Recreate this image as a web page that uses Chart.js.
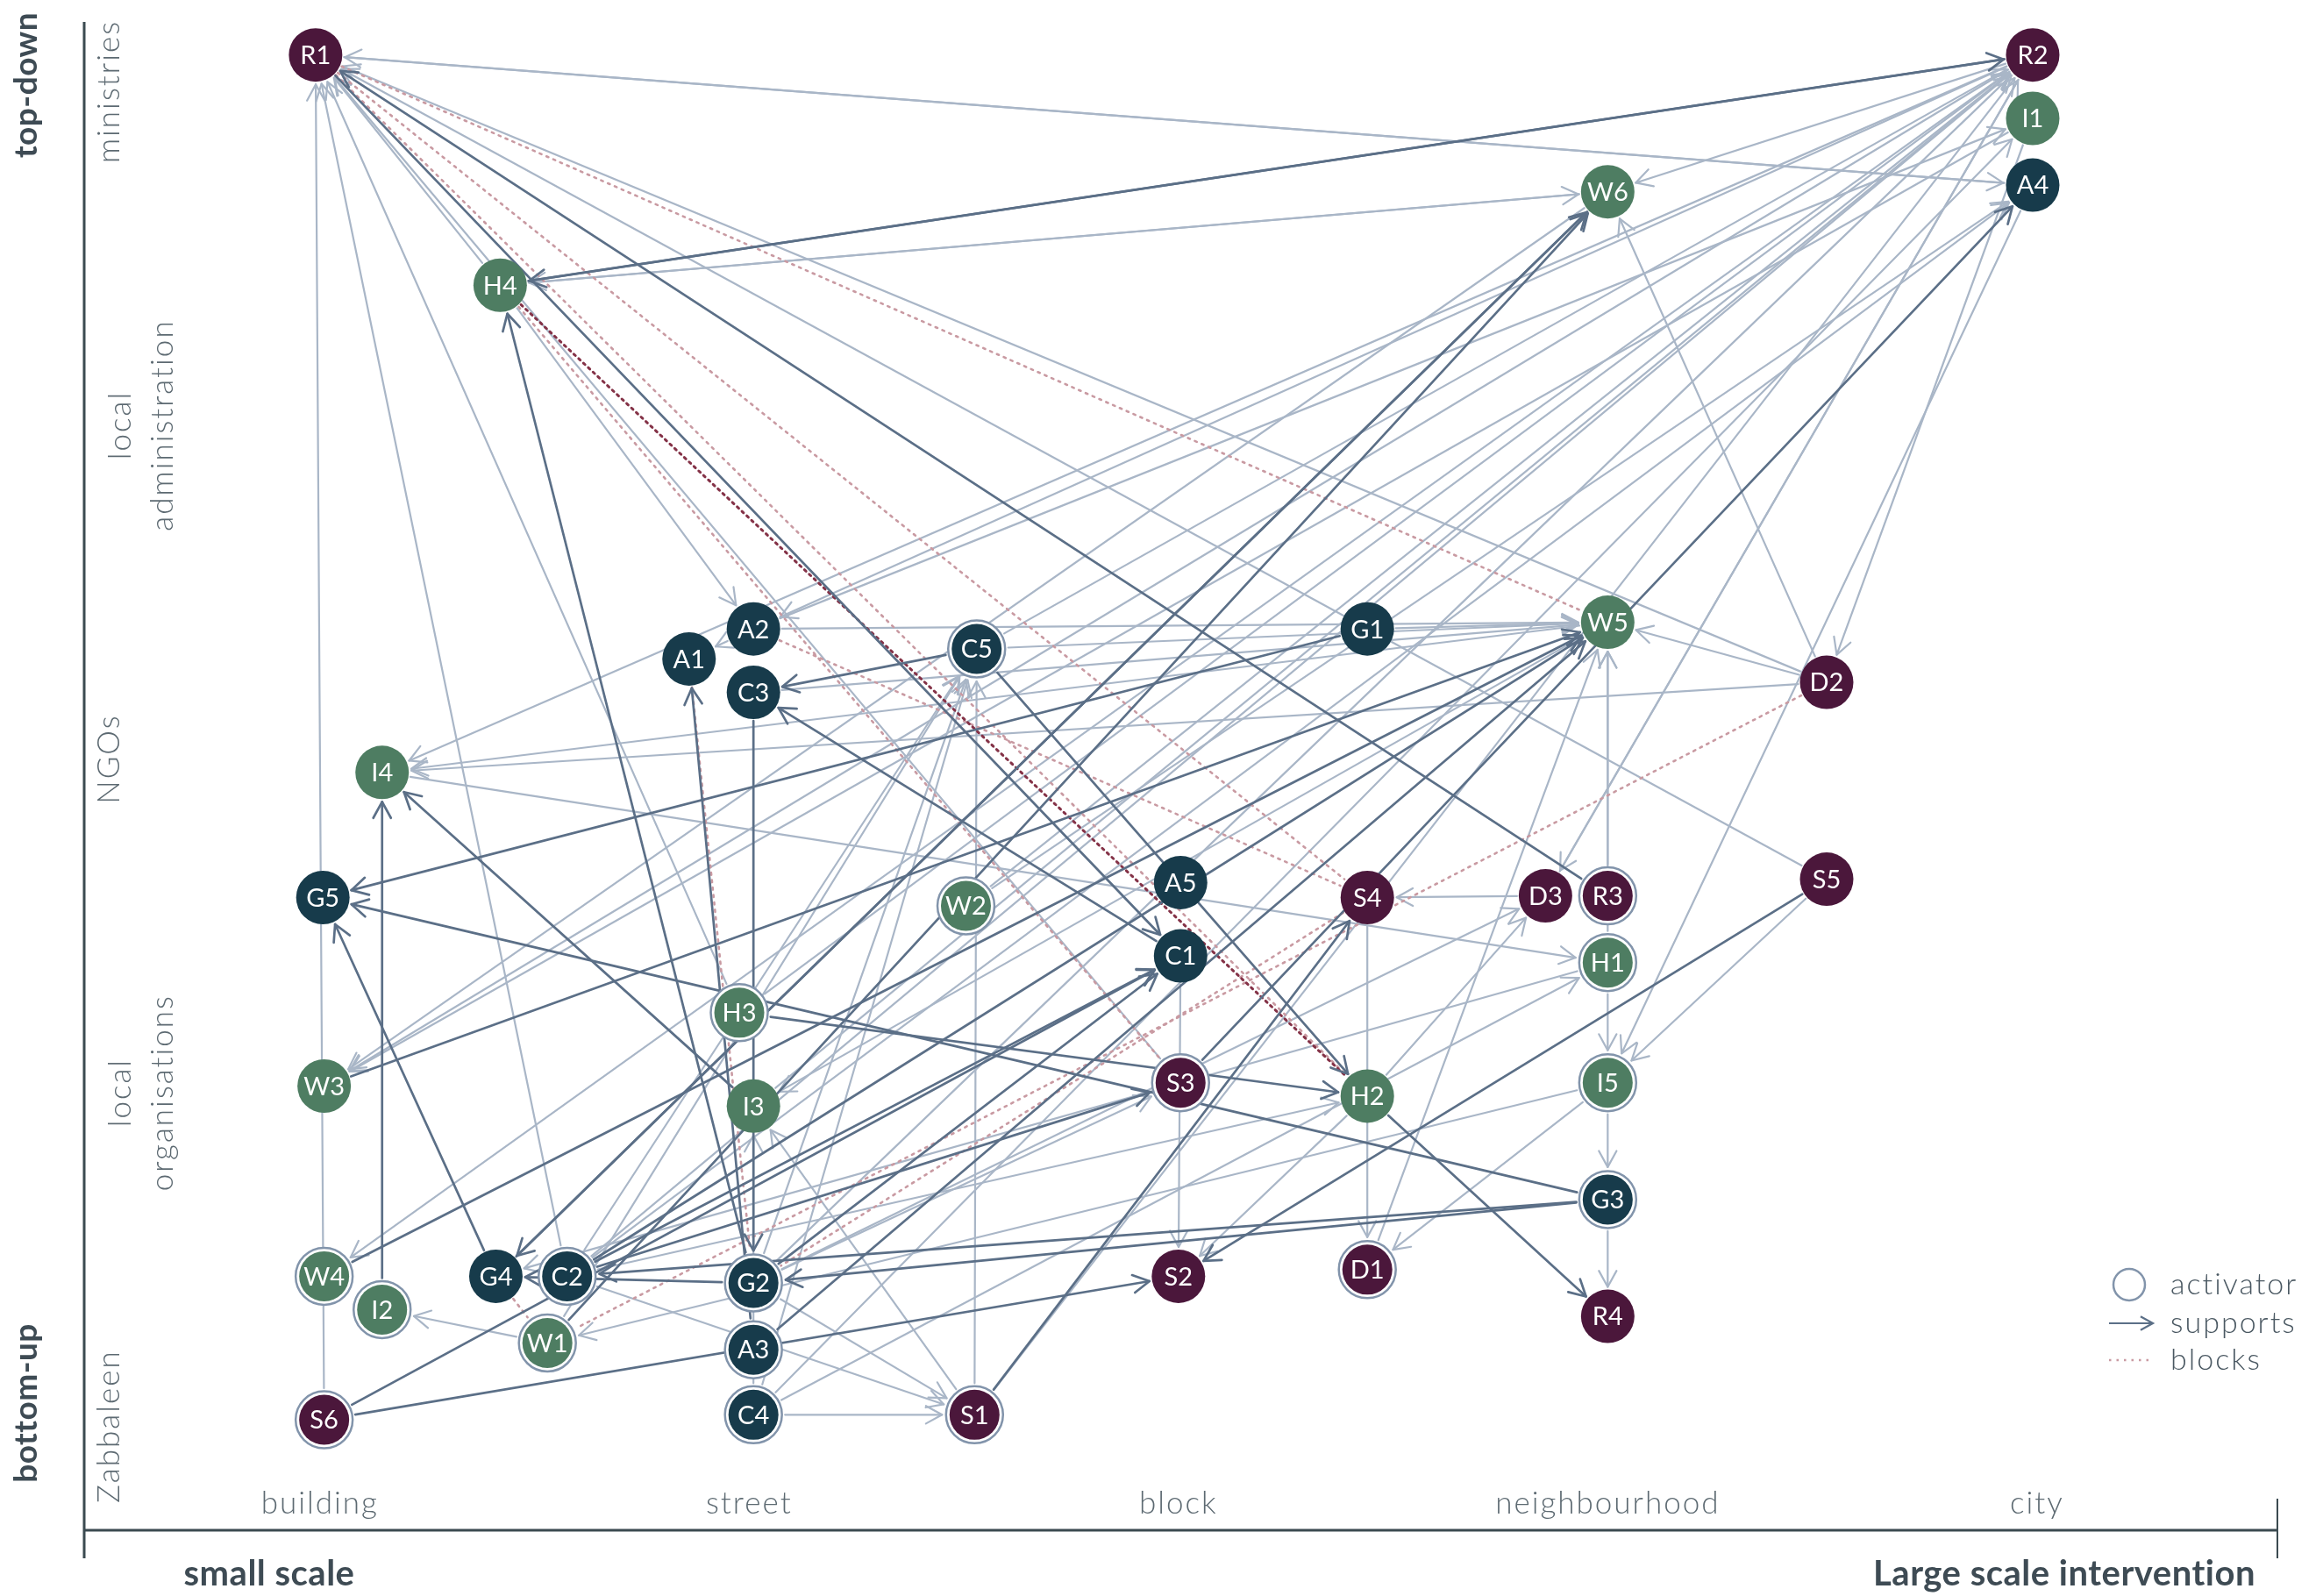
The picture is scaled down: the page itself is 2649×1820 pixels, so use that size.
<!DOCTYPE html>
<html><head><meta charset="utf-8">
<script src="https://cdn.jsdelivr.net/npm/chart.js@4/dist/chart.umd.min.js"></script>
<style>html,body{margin:0;padding:0;background:#fff;}#wrap{width:2649px;height:1820px;position:relative;}</style>
</head><body><div id="wrap"><canvas id="c" width="2649" height="1820"></canvas></div>
<script>
// ---- axes ----
const scaleLabels = ['building','street','block','neighbourhood','city'];
const scaleValues = [1,2,3,4,5];
const actorLabels = [['ministries'],['local','administration'],['NGOs'],['local','organisations'],['Zabbaleen']];
const actorValues = [5,4,3,2,1];
const sideLabels = ['top-down','bottom-up'];
const sideLevels = [5.02, 1.07];
const bottomLabels = ['small scale','Large scale intervention'];
const legendLabels = ['activator','supports','blocks'];

// ---- actors (nodes) ----
const nodeNames = ['R1','R2','I1','A4','W6','H4','A2','A1','C3','C5','G1','W5','D2','I4','G5','W2','A5','C1','S4','D3','R3','S5','H1','H3','W3','I3','S3','H2','I5','G3','W4','I2','G4','C2','G2','W1','A3','C4','S1','S6','S2','D1','R4'];
const nodeScale = [0.99,4.99,4.99,4.99,4.00,1.42,2.01,1.86,2.01,2.53,3.44,4.00,4.51,1.145,1.007,2.505,3.005,3.005,3.44,3.855,4.00,4.51,4.00,1.977,1.01,2.01,3.005,3.44,4.00,4.00,1.01,1.145,1.41,1.576,2.01,1.53,2.01,2.01,2.525,1.01,3.00,3.44,4.00];
const nodeLevel = [5.11,5.11,4.92,4.72,4.70,4.42,3.39,3.30,3.20,3.33,3.39,3.41,3.23,2.96,2.585,2.56,2.63,2.41,2.585,2.59,2.59,2.64,2.39,2.24,2.02,1.96,2.03,1.99,2.03,1.68,1.45,1.35,1.45,1.45,1.43,1.25,1.23,1.035,1.035,1.02,1.45,1.47,1.33];
const activators = ['C5','W2','R3','H1','H3','S3','I5','G3','W4','I2','C2','G2','W1','A3','C4','S1','S6','D1'];

// ---- relations ----
const strongSupports = [
 ['H4','R2'],['R2','H4'],['R3','R1'],['R1','C1'],['G2','H4'],['A3','A1'],['C3','G2'],['C5','C3'],['C1','C3'],
 ['G1','G5'],['G3','G5'],['H3','H2'],['G4','G5'],['I2','I4'],['I3','I4'],['W6','G4'],['G4','W6'],
 ['W1','W6'],['S3','A4'],['W3','W5'],['W4','W5'],['C2','W5'],['A3','W5'],['S6','C1'],['S6','S2'],
 ['C2','S3'],['C2','C1'],['G2','C1'],['G3','G2'],['G3','C2'],['G2','G4'],['S1','S4'],['S5','S2'],
 ['C5','H2'],['H2','R4']
];
const supports = [
 ['R1','A4'],['A4','R1'],['H4','W6'],['W6','H4'],['R2','W6'],['R2','I4'],['R2','W3'],['I1','W3'],
 ['R2','W4'],['R2','A2'],['A2','I1'],['G2','R2'],['S1','R2'],['I3','R2'],['W2','R2'],['H3','R2'],
 ['C4','I1'],['D3','R2'],['C2','R2'],['C5','R2'],['S6','R1'],['H4','R1'],['D2','R1'],['H3','R1'],
 ['C2','R1'],['S3','R1'],['S5','R1'],['H4','A2'],['A2','A1'],['A2','W5'],['C5','W5'],['C3','W5'],['G1','W5'],['D2','W5'],
 ['R3','W5'],['H1','W5'],['D1','W5'],['D2','W6'],['D2','I4'],['W5','I4'],['I1','D2'],['A4','I5'],
 ['R2','D3'],['S5','I5'],['I5','D1'],['I4','H1'],['S1','C5'],['C4','C5'],['G2','C5'],
 ['W1','C5'],['C2','C5'],['D3','S4'],['S4','D1'],['C1','S2'],['H2','S2'],['I5','W1'],['C2','H2'],
 ['H2','D3'],['G2','D3'],['S1','I3'],['C4','I3'],['W5','I3'],['C2','S1'],['G2','S1'],['C4','S1'],
 ['W1','I2'],['G2','S3'],['C4','H1'],['H1','G4'],['H1','I5'],['I5','G3'],['G3','R4'],['W2','A4'],
 ['C2','A4'],['W6','W3']
];
const blocks = [['R1','S4'],['R1','W5'],['R1','H2'],['H4','S3'],['A2','S4'],['D2','W1'],['S4','G2'],['A1','G2'],['G4','W1']];
const strongBlocks = [['H4','H2']];

// ---- styling ----
const COL = {R:'#4b173b',S:'#4b173b',D:'#4b173b',A:'#173b4b',C:'#173b4b',G:'#173b4b',W:'#4e7d62',H:'#4e7d62',I:'#4e7d62'};
const RING = '#8294ab';
const LIGHT = '#a9b6c7', DARK = '#5b6f87', PINK = '#c99aa2', WINE = '#843247';
const TXT = '#3e4b54', SUB = '#5d6a72';
const FONT = 'Lato, "Noto Sans", sans-serif';

const isAct = n => activators.includes(n);
const idx = n => nodeNames.indexOf(n);
const fillR = n => isAct(n) ? 28.5 : 30.5;
const outerR = n => isAct(n) ? 34 : 30.5;

function px(chart, n){
  const i = idx(n);
  return [chart.scales.x.getPixelForValue(nodeScale[i]), chart.scales.y.getPixelForValue(nodeLevel[i])];
}
function arrowHead(ctx, x, y, ux, uy, len, ang){
  const a = Math.atan2(uy, ux);
  ctx.beginPath();
  ctx.moveTo(x - len*Math.cos(a-ang), y - len*Math.sin(a-ang));
  ctx.lineTo(x, y);
  ctx.lineTo(x - len*Math.cos(a+ang), y - len*Math.sin(a+ang));
  ctx.stroke();
}
function edge(chart, a, b, color, width, dash, arrow){
  const ctx = chart.ctx;
  const [ax, ay] = px(chart, a), [bx, by] = px(chart, b);
  const dx = bx-ax, dy = by-ay, L = Math.hypot(dx, dy);
  const ux = dx/L, uy = dy/L;
  const s = outerR(a)+2, e = outerR(b)+3;
  const sx = ax+ux*s, sy = ay+uy*s, ex = bx-ux*e, ey = by-uy*e;
  ctx.save();
  ctx.strokeStyle = color; ctx.lineWidth = width; ctx.lineCap = 'round'; ctx.lineJoin='round';
  ctx.setLineDash(dash);
  ctx.beginPath(); ctx.moveTo(sx, sy); ctx.lineTo(ex, ey); ctx.stroke();
  ctx.setLineDash([]);
  if (arrow) arrowHead(ctx, ex, ey, ux, uy, 21, 0.5);
  ctx.restore();
}

const netPlugin = {
  id: 'net',
  beforeDatasetsDraw(chart){
    supports.forEach(([a,b]) => edge(chart, a, b, LIGHT, 2.2, [], true));
    blocks.forEach(([a,b]) => edge(chart, a, b, PINK, 2.6, [2.5,6], false));
    strongBlocks.forEach(([a,b]) => edge(chart, a, b, WINE, 3, [2.5,5], false));
    strongSupports.forEach(([a,b]) => edge(chart, a, b, DARK, 2.7, [], true));
  },
  afterDatasetsDraw(chart){
    const ctx = chart.ctx;
    ctx.save();
    ctx.fillStyle = '#ffffff';
    ctx.font = '400 29px ' + FONT;
    ctx.textAlign = 'center'; ctx.textBaseline = 'middle';
    nodeNames.forEach(n => { const [x,y] = px(chart, n); ctx.fillText(n, x, y+1); });
    ctx.restore();
  },
  afterDraw(chart){
    const ctx = chart.ctx, xs = chart.scales.x, ys = chart.scales.y, ca = chart.chartArea;
    const ls = v => { if ('letterSpacing' in ctx) ctx.letterSpacing = v; };
    ctx.save();
    // axis lines
    ctx.strokeStyle = '#3b4a50'; ctx.lineWidth = 3;
    ctx.beginPath(); ctx.moveTo(ca.left, ca.top); ctx.lineTo(ca.left, ca.bottom+32); ctx.stroke();
    ctx.beginPath(); ctx.moveTo(ca.left, ca.bottom); ctx.lineTo(ca.right, ca.bottom); ctx.stroke();
    ctx.lineWidth = 2;
    ctx.beginPath(); ctx.moveTo(ca.right, ca.bottom-36); ctx.lineTo(ca.right, ca.bottom+32); ctx.stroke();
    // x tick labels (above the axis)
    ctx.fillStyle = SUB; ctx.textAlign = 'center'; ctx.textBaseline = 'middle';
    ctx.font = '300 35px ' + FONT; ls('2px');
    scaleValues.forEach((v,i) => ctx.fillText(scaleLabels[i], xs.getPixelForValue(v), ca.bottom-30));
    // y category labels (rotated)
    actorValues.forEach((v,i) => {
      const y = ys.getPixelForValue(v);
      const lines = actorLabels[i];
      const xsPos = lines.length === 1 ? [125] : [138, 186];
      lines.forEach((t,j) => {
        ctx.save(); ctx.translate(xsPos[j], y); ctx.rotate(-Math.PI/2);
        ctx.fillText(t, 0, 0); ctx.restore();
      });
    });
    // bold outer labels
    ctx.fillStyle = TXT; ctx.font = '700 37px ' + FONT; ls('0.5px');
    sideLabels.forEach((t,i) => {
      ctx.save(); ctx.translate(30, ys.getPixelForValue(sideLevels[i])); ctx.rotate(-Math.PI/2); ctx.fillText(t, 0, 0); ctx.restore();
    });
    ctx.font = '700 40px ' + FONT; ls('0.5px');
    ctx.fillText(bottomLabels[0], 307, ca.bottom+50);
    ctx.textAlign = 'right';
    ctx.fillText(bottomLabels[1], 2572, ca.bottom+50);
    // legend
    const lx = 2428, ly = [1465, 1509, 1551];
    ctx.strokeStyle = RING; ctx.lineWidth = 2.5;
    ctx.beginPath(); ctx.arc(lx, ly[0], 18, 0, Math.PI*2); ctx.stroke();
    ctx.strokeStyle = DARK; ctx.lineWidth = 2.2;
    ctx.beginPath(); ctx.moveTo(2405, ly[1]); ctx.lineTo(2455, ly[1]); ctx.stroke();
    arrowHead(ctx, 2455, ly[1], 1, 0, 16, 0.5);
    ctx.strokeStyle = PINK; ctx.lineWidth = 2.6; ctx.setLineDash([2.5,6]);
    ctx.beginPath(); ctx.moveTo(2405, ly[2]); ctx.lineTo(2455, ly[2]); ctx.stroke();
    ctx.setLineDash([]);
    ctx.fillStyle = '#4a5862'; ctx.font = '300 34px ' + FONT; ctx.textAlign = 'left'; ls('2px');
    legendLabels.forEach((t,i) => ctx.fillText(t, 2475, ly[i]));
    ctx.restore();
  }
};

const nodePoints = nodeNames.map((n,i) => ({x: nodeScale[i], y: nodeLevel[i]}));
const ringPoints = activators.map(n => ({x: nodeScale[idx(n)], y: nodeLevel[idx(n)]}));

new Chart(document.getElementById('c'), {
  type: 'scatter',
  data: { datasets: [
    { label: 'activator', data: ringPoints, order: 2, pointRadius: 32.5, pointHoverRadius: 32.5,
      pointBackgroundColor: '#ffffff', pointBorderColor: RING, pointBorderWidth: 2.5 },
    { label: 'actors', data: nodePoints, order: 1,
      pointRadius: nodeNames.map(fillR), pointHoverRadius: nodeNames.map(fillR),
      pointBackgroundColor: nodeNames.map(n => COL[n[0]]), pointBorderWidth: 0 }
  ]},
  options: {
    responsive: false, animation: false, devicePixelRatio: 1,
    layout: { autoPadding: false, padding: { left: 96, right: 52, top: 25, bottom: 75 } },
    plugins: { legend: { display: false }, tooltip: { enabled: false } },
    events: [],
    scales: {
      x: { type: 'linear', min: 0.451, max: 5.56, display: false },
      y: { type: 'linear', min: 0.689, max: 5.209, display: false }
    }
  },
  plugins: [netPlugin]
});
</script></body></html>
